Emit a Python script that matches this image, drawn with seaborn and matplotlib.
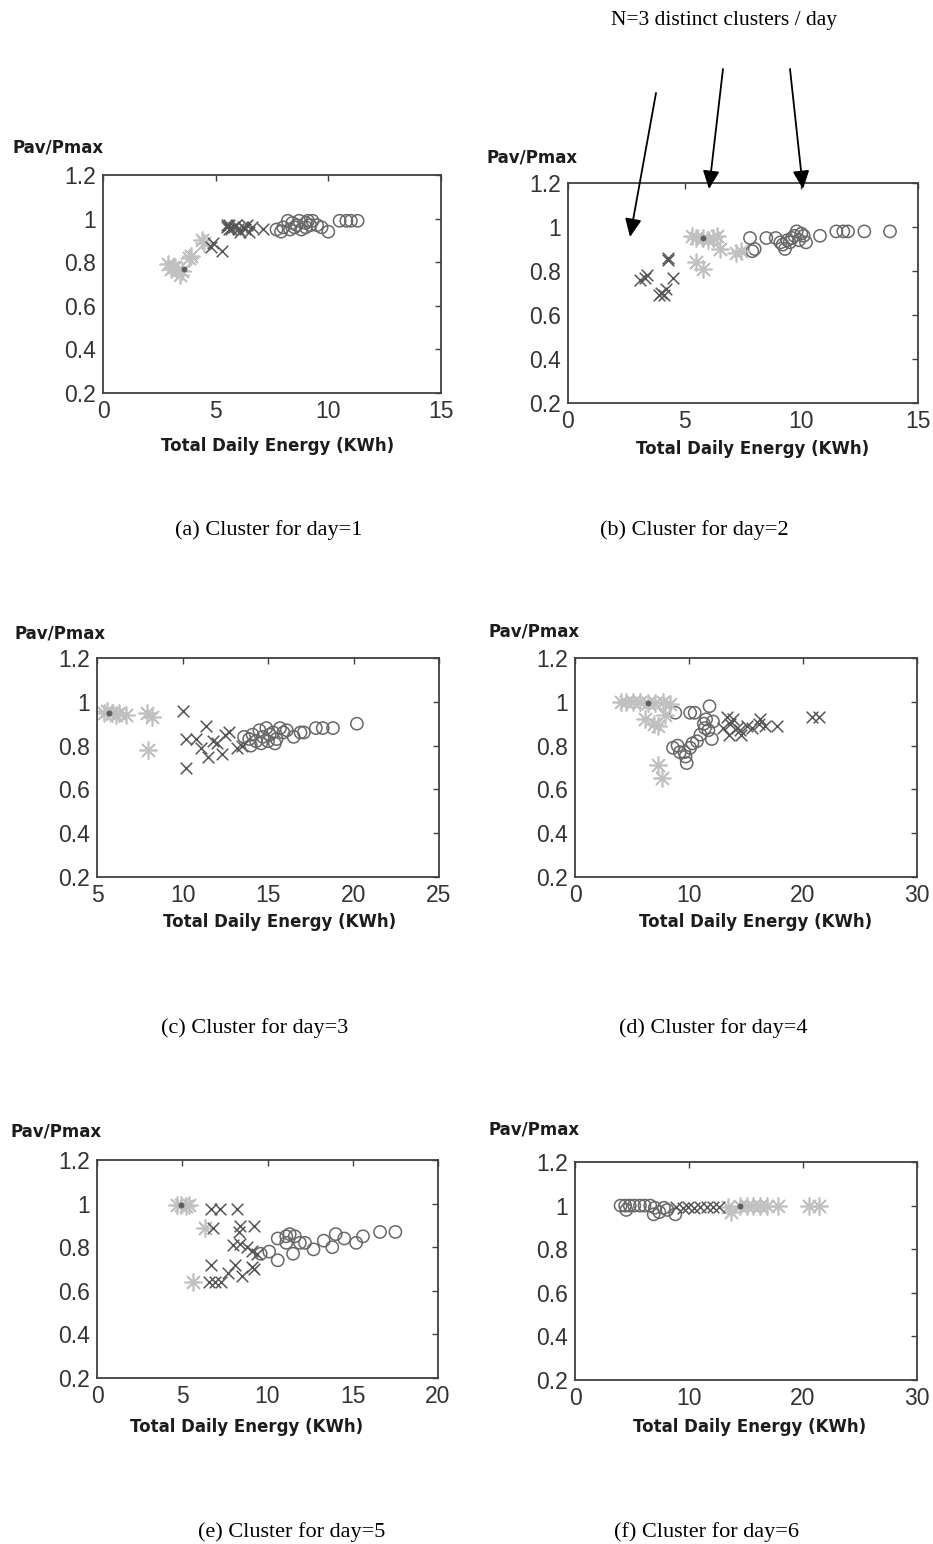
import numpy as np
import pandas as pd
import matplotlib
matplotlib.use("Agg")
import matplotlib.pyplot as plt
from matplotlib.patches import FancyArrowPatch
import seaborn as sns

# ---- data (energy in KWh, ratio Pav/Pmax) ----
# day 1
d1_star_e = [2.9, 3.0, 3.1, 3.2, 3.4, 3.5, 3.8, 3.9, 4.4, 4.5]
d1_star_r = [0.79, 0.77, 0.78, 0.78, 0.74, 0.76, 0.82, 0.83, 0.90, 0.89]
d1_cent = [3.6, 0.77]
d1_cross_e = [4.8, 4.9, 5.3, 5.5, 5.5, 5.6, 5.7, 5.8, 5.9, 6.0, 6.1, 6.2, 6.3, 6.4, 6.5, 6.6, 7.1, 5.6]
d1_cross_r = [0.87, 0.89, 0.85, 0.96, 0.97, 0.97, 0.95, 0.96, 0.97, 0.95, 0.94, 0.96, 0.95, 0.97, 0.94, 0.96, 0.95, 0.95]
d1_ring_e = [7.7, 7.9, 8.0, 8.2, 8.3, 8.4, 8.5, 8.6, 8.7, 8.8, 9.0, 9.0, 9.1, 9.2, 9.3, 9.5, 9.7, 10.0,
             10.5, 10.8, 11.0, 11.3]
d1_ring_r = [0.95, 0.94, 0.96, 0.99, 0.95, 0.98, 0.96, 0.97, 0.99, 0.95, 0.98, 0.96, 0.99, 0.97, 0.99, 0.97,
             0.96, 0.94, 0.99, 0.99, 0.99, 0.99]

# day 2
d2_cross_e = [3.1, 3.3, 3.4, 3.9, 4.0, 4.1, 4.2, 4.3, 4.3, 4.5]
d2_cross_r = [0.76, 0.77, 0.78, 0.69, 0.70, 0.69, 0.72, 0.85, 0.86, 0.77]
d2_star_e = [5.3, 5.5, 5.8, 6.0, 6.2, 6.4, 6.5, 5.5, 5.8, 7.2, 7.4]
d2_star_r = [0.96, 0.95, 0.95, 0.94, 0.95, 0.96, 0.90, 0.84, 0.81, 0.88, 0.89]
d2_cent = [5.8, 0.95]
d2_ring_e = [7.8, 7.9, 8.0, 8.5, 8.9, 9.1, 9.2, 9.3, 9.4, 9.5, 9.6, 9.7, 9.8, 9.9, 10.0, 10.1, 10.2,
             10.8, 11.5, 11.8, 12.0, 12.7, 13.8]
d2_ring_r = [0.95, 0.89, 0.90, 0.95, 0.95, 0.93, 0.92, 0.90, 0.94, 0.93, 0.95, 0.96, 0.98, 0.94, 0.97,
             0.96, 0.93, 0.96, 0.98, 0.98, 0.98, 0.98, 0.98]

# day 3
d3_star_e = [5.4, 5.6, 5.9, 6.1, 6.3, 6.7, 7.9, 8.2, 8.0]
d3_star_r = [0.95, 0.96, 0.95, 0.94, 0.95, 0.94, 0.95, 0.93, 0.78]
d3_cent = [5.7, 0.95]
d3_cross_e = [10.0, 10.2, 10.8, 11.4, 11.1, 11.8, 11.5, 12.3, 12.5, 12.7, 10.2, 13.2, 13.5, 12.0]
d3_cross_r = [0.96, 0.83, 0.83, 0.89, 0.79, 0.82, 0.75, 0.76, 0.85, 0.86, 0.70, 0.79, 0.80, 0.81]
d3_ring_e = [13.6, 13.9, 14.1, 14.3, 14.5, 14.7, 14.9, 15.1, 15.3, 15.5, 15.7, 15.9, 16.1, 16.5, 16.9,
             17.1, 17.8, 18.2, 18.8, 20.2, 14.0, 14.6, 15.0, 15.4]
d3_ring_r = [0.84, 0.83, 0.85, 0.82, 0.87, 0.84, 0.88, 0.85, 0.86, 0.83, 0.88, 0.86, 0.87, 0.84, 0.86,
             0.86, 0.88, 0.88, 0.88, 0.90, 0.80, 0.81, 0.82, 0.81]

# day 4
d4_star_e = [4.0, 4.5, 5.1, 5.7, 6.4, 7.0, 7.7, 8.3, 7.9, 6.1, 6.9, 7.3, 7.3, 7.6]
d4_star_r = [1.0, 1.0, 1.0, 1.0, 0.995, 0.995, 1.0, 0.99, 0.94, 0.92, 0.90, 0.89, 0.71, 0.65]
d4_cent = [6.4, 0.995]
d4_ring_e = [8.8, 10.1, 10.5, 8.6, 9.0, 9.6, 9.8, 9.7, 10.1, 10.7, 11.3, 11.8, 11.7, 12.0, 12.1, 11.5,
             11.0, 9.2, 10.3, 11.4]
d4_ring_r = [0.95, 0.95, 0.95, 0.79, 0.80, 0.77, 0.72, 0.75, 0.79, 0.82, 0.90, 0.98, 0.87, 0.83, 0.91,
             0.92, 0.85, 0.77, 0.81, 0.88]
d4_cross_e = [13.3, 13.6, 13.9, 13.5, 14.5, 14.6, 15.1, 15.5, 16.1, 16.2, 16.7, 17.7, 20.8, 21.4, 13.0, 14.2]
d4_cross_r = [0.93, 0.90, 0.92, 0.85, 0.87, 0.85, 0.89, 0.88, 0.90, 0.92, 0.89, 0.89, 0.93, 0.93, 0.88, 0.88]

# day 5
d5_star_e = [4.7, 4.9, 5.2, 5.4, 6.35, 5.65]
d5_star_r = [0.995, 0.995, 0.99, 0.995, 0.89, 0.64]
d5_cent = [4.9, 0.995]
d5_cross_e = [6.7, 7.2, 8.2, 6.8, 8.4, 9.2, 8.3, 8.0, 8.4, 8.8, 9.1, 9.4, 6.7, 8.1, 8.5, 6.55, 6.9,
              7.3, 7.7, 9.2, 9.1]
d5_cross_r = [0.976, 0.976, 0.976, 0.89, 0.896, 0.896, 0.87, 0.81, 0.816, 0.80, 0.784, 0.77, 0.72, 0.72,
              0.67, 0.64, 0.64, 0.64, 0.68, 0.70, 0.71]
d5_ring_e = [9.6, 10.1, 10.6, 10.6, 11.1, 11.1, 11.3, 11.5, 11.6, 11.9, 12.2, 12.7, 13.3, 13.8, 14.0,
             14.5, 15.2, 15.6, 16.6, 17.5]
d5_ring_r = [0.77, 0.78, 0.74, 0.84, 0.85, 0.82, 0.86, 0.77, 0.85, 0.82, 0.82, 0.79, 0.83, 0.80, 0.86,
             0.84, 0.82, 0.85, 0.87, 0.87]

# day 6
d6_ring_e = [4.0, 4.4, 4.8, 5.2, 5.7, 6.1, 6.6, 7.0, 7.4, 7.8, 8.8, 4.5, 6.9, 8.1]
d6_ring_r = [1.0, 1.0, 1.0, 1.0, 1.0, 1.0, 1.0, 0.99, 0.97, 0.99, 0.96, 0.98, 0.96, 0.98]
d6_cross_e = [8.9, 9.5, 9.9, 10.4, 11.0, 11.6, 12.1, 12.6]
d6_cross_r = [0.995, 0.99, 0.995, 0.99, 0.995, 0.995, 0.995, 0.995]
d6_star_e = [13.4, 13.7, 14.5, 15.1, 15.6, 16.2, 16.8, 17.8, 20.5, 21.4]
d6_star_r = [0.995, 0.97, 1.0, 1.0, 1.0, 1.0, 1.0, 1.0, 1.0, 1.0]
d6_cent = [14.5, 1.0]

x_limits = [(0, 15), (0, 15), (5, 25), (0, 30), (0, 20), (0, 30)]
x_ticks = [[0, 5, 10, 15], [0, 5, 10, 15], [5, 10, 15, 20, 25], [0, 10, 20, 30],
           [0, 5, 10, 15, 20], [0, 10, 20, 30]]
y_ticks = [0.2, 0.4, 0.6, 0.8, 1.0, 1.2]
y_tick_labels = ["0.2", "0.4", "0.6", "0.8", "1", "1.2"]
captions = ["(a) Cluster for day=1", "(b) Cluster for day=2", "(c) Cluster for day=3",
            "(d) Cluster for day=4", "(e) Cluster for day=5", "(f) Cluster for day=6"]

days = [
    (d1_star_e, d1_star_r, d1_cross_e, d1_cross_r, d1_ring_e, d1_ring_r, d1_cent),
    (d2_star_e, d2_star_r, d2_cross_e, d2_cross_r, d2_ring_e, d2_ring_r, d2_cent),
    (d3_star_e, d3_star_r, d3_cross_e, d3_cross_r, d3_ring_e, d3_ring_r, d3_cent),
    (d4_star_e, d4_star_r, d4_cross_e, d4_cross_r, d4_ring_e, d4_ring_r, d4_cent),
    (d5_star_e, d5_star_r, d5_cross_e, d5_cross_r, d5_ring_e, d5_ring_r, d5_cent),
    (d6_star_e, d6_star_r, d6_cross_e, d6_cross_r, d6_ring_e, d6_ring_r, d6_cent),
]

# ---- layout in pixels of the 933x1544 page ----
W, H = 933, 1544
# axes box (left, top, right, bottom), xlabel centre, ylabel left/centre, caption centre
layout = [
    dict(box=(103, 175, 441, 393), xlab=(278, 446), ylab=(13, 147), cap=(269, 530)),
    dict(box=(568, 183, 918, 403), xlab=(753, 449), ylab=(487, 157), cap=(694, 530)),
    dict(box=(97, 658, 439, 877), xlab=(280, 922), ylab=(15, 633), cap=(255, 1028)),
    dict(box=(575, 658, 917, 877), xlab=(756, 922), ylab=(488, 631), cap=(713, 1028)),
    dict(box=(97, 1160, 438, 1378), xlab=(247, 1427), ylab=(11, 1132), cap=(292, 1532)),
    dict(box=(575, 1162, 917, 1380), xlab=(750, 1427), ylab=(488, 1129), cap=(707, 1532)),
]

sns.set_theme(style="white")
plt.rcParams["font.family"] = ["Liberation Sans", "DejaVu Sans"]

SPINE = "#404040"
STAR_COL = "#c0c0c0"
CROSS_COL = "#555555"
RING_COL = "#686868"
ASTERISK = (8, 2, 0)

fig = plt.figure(figsize=(W / 100, H / 100), dpi=100)


def fx(x):
    return x / W


def fy(y):
    return 1 - y / H


for i, (lay, day) in enumerate(zip(layout, days)):
    star_e, star_r, cross_e, cross_r, ring_e, ring_r, cent = day
    l, t, r, b = lay["box"]
    ax = fig.add_axes([fx(l), fy(b), (r - l) / W, (b - t) / H])

    sns.scatterplot(x=ring_e, y=ring_r, ax=ax, marker="o", s=78, facecolors="none",
                    edgecolor=RING_COL, linewidth=1.1, legend=False)
    sns.scatterplot(x=star_e, y=star_r, ax=ax, marker=ASTERISK, s=150, color=STAR_COL,
                    linewidth=1.2, legend=False)
    sns.scatterplot(x=cross_e, y=cross_r, ax=ax, marker="x", s=70, color=CROSS_COL,
                    linewidth=1.1, legend=False)
    sns.scatterplot(x=[cent[0]], y=[cent[1]], ax=ax, marker="o", s=14, color="#5e5e5e",
                    edgecolor="#5e5e5e", linewidth=0.5, legend=False)

    ax.set_xlim(*x_limits[i])
    ax.set_ylim(0.2, 1.2)
    ax.set_xticks(x_ticks[i])
    ax.set_yticks(y_ticks, y_tick_labels)
    ax.set_xlabel("")
    ax.set_ylabel("")
    ax.tick_params(direction="in", top=True, right=True, length=4, width=1.0, color=SPINE,
                   labelsize=16.5, labelcolor="#333333", pad=5)
    for sp in ax.spines.values():
        sp.set_color(SPINE)
        sp.set_linewidth(1.3)
        sp.set_visible(True)

    fig.text(fx(lay["xlab"][0]), fy(lay["xlab"][1]), "Total Daily Energy (KWh)",
             ha="center", va="center", fontsize=12, fontweight="bold",
             family=["DejaVu Sans"], color="#1c1c1c")
    fig.text(fx(lay["ylab"][0]), fy(lay["ylab"][1]), "Pav/Pmax",
             ha="left", va="center", fontsize=12, fontweight="bold",
             family=["DejaVu Sans"], color="#1c1c1c")
    fig.text(fx(lay["cap"][0]), fy(lay["cap"][1]), captions[i],
             ha="center", va="center", fontsize=16, family=["Liberation Serif"], color="black")

# annotation above panel (b)
fig.text(fx(724), fy(20), "N=3 distinct clusters / day", ha="center", va="center",
         fontsize=15.5, family=["Liberation Serif"], color="black")
arrows = [((656, 93), (630, 237)), ((723, 69), (709, 189)), ((790, 69), (803, 189))]
for (x0, y0), (x1, y1) in arrows:
    fig.add_artist(FancyArrowPatch(
        (fx(x0), fy(y0)), (fx(x1), fy(y1)), transform=fig.transFigure,
        arrowstyle="-|>,head_length=1.1,head_width=0.5", mutation_scale=10,
        lw=1.3, color="black", shrinkA=0, shrinkB=0))

fig.savefig("out.png", dpi=100, facecolor="white")
